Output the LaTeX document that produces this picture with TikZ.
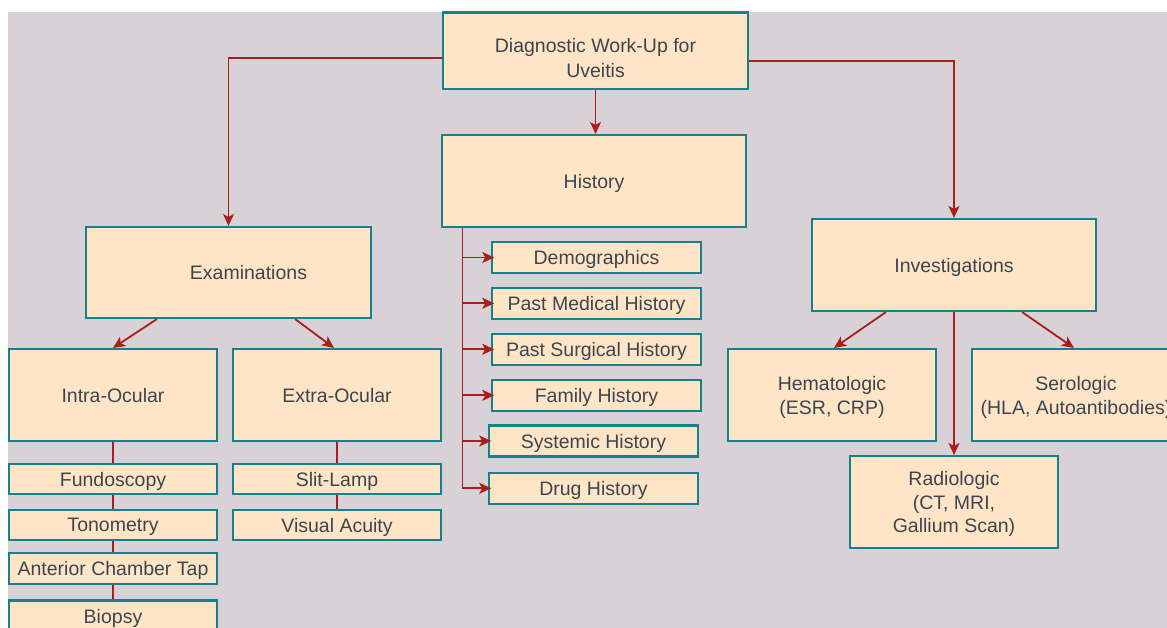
\documentclass[tikz,border=0pt]{standalone}
\usepackage{fontspec}
\setmainfont{Liberation Sans}
\usetikzlibrary{arrows.meta}
\definecolor{bgc}{HTML}{D8D2D6}
\definecolor{peach}{HTML}{FFE4C6}
\definecolor{tealb}{HTML}{16808C}
\definecolor{linkc}{HTML}{AA1E1E}
\definecolor{txtc}{HTML}{3A4750}
\tikzset{
  box/.style={draw=tealb, fill=peach, line width=2.1pt, inner sep=0pt, align=center,
    font=\fontsize{19.5}{24}\selectfont, text=txtc, text depth=0pt,
    minimum width=208pt, minimum height=92pt},
  small/.style={box, minimum height=30.5pt},
  link/.style={draw=linkc, line width=1.8pt},
  arr/.style={link, -{Stealth[length=12pt,width=11pt,inset=3pt]}},
}
\begin{document}
\begin{tikzpicture}[x=1pt,y=-1pt]
\clip (0,0) rectangle (1167,628);
\fill[white] (0,0) rectangle (1167,628);
\fill[bgc] (8,12) rectangle (1167,628);

% top level
\node[box, minimum width=305pt, minimum height=76.5pt, font=\fontsize{19.5}{25}\selectfont, text height=53pt] (diag) at (595.5,50.75) {Diagnostic Work-Up for\\Uveitis};
\node[box, minimum width=304pt] (hist) at (594,181) {History};
\node[box, minimum width=285pt, minimum height=91pt, label={[xshift=20pt, font=\fontsize{19.5}{24}\selectfont, text=txtc, text depth=0pt]center:Examinations}] (exam) at (228.5,272.5) {};
\node[box, minimum width=284pt] (inv) at (954,265) {Investigations};

% investigations children
\node[box] (hema) at (832,395) {Hematologic\\(ESR, CRP)};
\node[box] (sero) at (1076,395) {Serologic\\(HLA, Autoantibodies)};
\node[box, font=\fontsize{19.5}{23.5}\selectfont] (radio) at (954,502) {Radiologic\\(CT, MRI,\\Gallium Scan)};

% examinations children
\node[box] (intra) at (113,395) {Intra-Ocular};
\node[box] (extra) at (337,395) {Extra-Ocular};
\node[small] (fund) at (113,479) {Fundoscopy};
\node[small] (tono) at (113,525) {Tonometry};
\node[small, minimum height=31pt] (act) at (113,568.5) {Anterior Chamber Tap};
\node[small, minimum height=31pt] (biop) at (113,616) {Biopsy};
\node[small] (slit) at (337,479) {Slit-Lamp};
\node[small] (vis) at (337,525) {Visual Acuity};

% history children
\node[small, minimum width=208.5pt, minimum height=31pt] (demo) at (596.5,257.5) {Demographics};
\node[small, minimum width=208.5pt, minimum height=31pt] (pmh) at (596.5,303.3) {Past Medical History};
\node[small, minimum width=208.5pt, minimum height=31pt] (psh) at (596.5,349.3) {Past Surgical History};
\node[small, minimum width=208.5pt, minimum height=31pt] (fam) at (596.5,395.3) {Family History};
\node[small, minimum width=208.5pt, minimum height=31pt] (sys) at (593.5,441) {Systemic History};
\node[small, minimum width=208.5pt, minimum height=31pt] (drug) at (593.5,488.3) {Drug History};

% connectors from top
\draw[arr] (diag.south) -- (diag.south |- hist.north);
\draw[arr] (diag.west) ++(0,7) -| (exam.north);
\draw[arr] (diag.east) ++(0,10) -| (inv.north);

% history list
\coordinate (hb) at ([xshift=21.5pt]hist.south west);
\foreach \n in {demo,pmh,psh,fam,sys,drug}{
  \draw[arr] (hb) |- ([xshift=3pt]\n.west);
}

% examinations
\draw[arr] ([xshift=72pt]exam.south west) -- (intra.north);
\draw[arr] ([xshift=-77pt]exam.south east) -- ([xshift=-3pt]extra.north);
\draw[link] (intra.south) -- (fund.north);
\draw[link] (fund.south) -- (tono.north);
\draw[link] (tono.south) -- (act.north);
\draw[link] (act.south) -- (biop.north);
\draw[link] (extra.south) -- (slit.north);
\draw[link] (slit.south) -- (vis.north);

% investigations
\draw[arr] ([xshift=75pt]inv.south west) -- ([xshift=2pt]hema.north);
\draw[arr] ([xshift=-75pt]inv.south east) -- ([xshift=-2pt]sero.north);
\draw[arr] (inv.south) -- (radio.north);
\end{tikzpicture}
\end{document}
